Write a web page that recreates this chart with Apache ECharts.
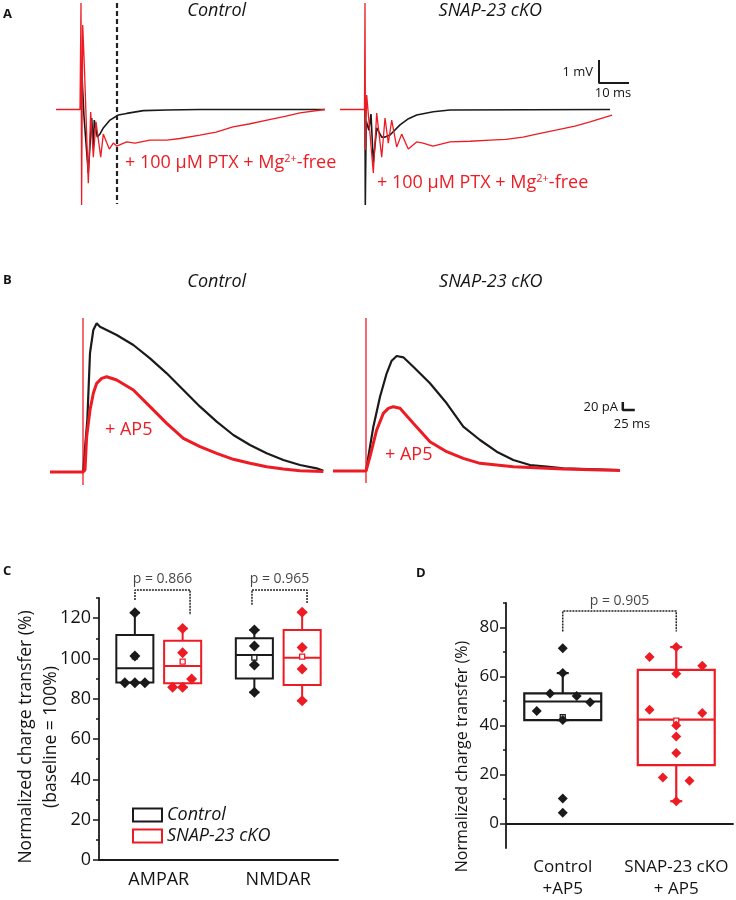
<!DOCTYPE html>
<html><head><meta charset="utf-8">
<script src="https://cdn.jsdelivr.net/npm/echarts@6/dist/echarts.min.js"></script>
<style>html,body{margin:0;padding:0;background:#fff}#c{width:736px;height:900px}</style>
</head><body><div id="c"></div>
<script>
// ---------- Panel A traces (time ms, voltage mV) ----------
const aCtrlBlack = [[0,0],[0.33,1.5],[1.0,-0.3],[2.43,-2.76],[3.57,-0.37],[4.1,-1.68],[4.43,-0.46],[5.43,-1.2],[6.4,-1.05],[7.43,-0.8],[9.67,-0.46],[12.43,-0.24],[15.23,-0.17],[20.77,-0.05],[28.57,-0.02],[39.67,0],[81.33,0]];
const aCtrlRed = [[-8.33,0],[-0.33,0],[0,4.63],[0.2,-4.15],[0.57,3.67],[1.17,1.72],[2.43,-3.2],[3.23,-0.11],[4.1,-2.07],[5,-0.54],[6.57,-2.07],[7.43,-1.07],[9.43,-1.72],[10.77,-1.46],[11.9,-1.59],[15.23,-1.41],[18,-1.46],[23,-1.33],[28.67,-1.33],[33,-1.26],[39.67,-1.11],[45,-0.98],[50.67,-0.76],[56,-0.63],[62,-0.46],[68,-0.3],[73,-0.15],[81.33,0]];
const aKoBlack = [[0,0],[0.1,-4.15],[0.4,-0.5],[1.3,-0.9],[2.0,-0.2],[2.77,-2.3],[3.9,-0.8],[5.57,-1.2],[6.67,-1.2],[8.33,-1.11],[11.67,-0.67],[14.5,-0.4],[17.23,-0.24],[22.77,-0.1],[28.33,-0.02],[81.67,0]];
const aKoRed = [[-8.33,0],[-0.17,0],[0,4.63],[0.17,-1.76],[0.57,0.63],[2.77,-2.76],[3.9,-0.15],[5.57,-2.07],[6.67,-0.37],[7.77,-1.46],[8.9,-0.46],[10.57,-1.63],[12.23,-1.07],[14.43,-1.72],[17.23,-1.41],[19.33,-1.46],[22.67,-1.59],[28.33,-1.41],[35,-1.38],[41.67,-1.33],[47,-1.3],[52.67,-1.2],[58,-1.05],[64,-0.89],[70,-0.72],[75,-0.54],[82.33,-0.24]];
const aDash = [[12,4.63],[12,-4.11]];
const aScale = [[78,2.15],[78,1.15],[88,1.15]];

// ---------- Panel B traces (time ms, current pA) ----------
const bCtrlBlack = [[-68.75,0],[0,0],[9,130],[14.6,297.5],[21.5,355],[28.5,371.7],[35.4,363.3],[70.2,342.5],[104.9,317.5],[139.6,284.2],[174.4,246.7],[209.1,205],[243.8,163.3],[278.5,125.8],[313.2,92.5],[347.9,67.5],[382.6,46.7],[417.4,30],[452.1,17.5],[486.8,9.2],[500.7,3]];
const bCtrlRed = [[-68.75,0],[0,0],[4.2,5],[7.6,88],[14.6,155],[21.5,196.7],[28.5,221.7],[38.9,234],[49.3,238],[70.2,230],[104.9,205],[139.6,163.3],[174.4,121.7],[209.1,84.2],[243.8,63.3],[278.5,46.7],[313.2,31.7],[347.9,21.7],[382.6,13.3],[417.4,7.5],[452.1,3.3],[500.7,1]];
const bCtrlStim = [[0,385],[0,-32.5]];
const bKoBlack = [[-68.75,0],[0,0],[15.3,110.8],[29.2,185.8],[43.1,244.2],[53.5,275.8],[63.9,287.5],[77.8,284.2],[98.5,260.8],[133.3,219.2],[168.1,169.2],[202.7,110.8],[237.5,77.5],[272.3,48.3],[306.9,27.5],[341.7,15],[376.5,10.8],[411,6.7],[529.2,2.5]];
const bKoRed = [[-68.75,0],[0,0],[8.3,35.8],[22.2,102.5],[36.1,144.2],[46.5,156.7],[56.9,160.8],[70.8,156.7],[98.5,119.2],[133.3,73.3],[168.1,48.3],[202.7,31.7],[237.5,19.2],[306.9,10.8],[411,5],[529.2,1]];
const bKoStim = [[0,382.5],[0,-30]];
const bScale = [[535,172.5],[535,152.5],[560,152.5]];

// ---------- Panel C ----------
const cCategories = ['AMPAR', 'NMDAR'];
const cTicks = [0, 20, 40, 60, 80, 100, 120];
const cMinorTicks = [10, 30, 50, 70, 90, 110, 130];
// [min, q1, median, q3, max]
const cBoxCtrl = [[88, 88.1, 95.1, 111.7, 122.7], [83.2, 90.1, 101.7, 110, 114.1]];
const cBoxKo = [[85.7, 87.7, 96.3, 108.8, 114.9], [79, 86.8, 100.4, 114.1, 122.9]];
const cMeanCtrl = [101, 100.4];
const cMeanKo = [98.4, 100.9];
const cPtsCtrl = [[122.7, 101.2, 88, 88, 88], [114.1, 106.2, 96.8, 83.2]];
const cJitCtrl = [[0, 0, -0.084, 0, 0.084], [0, 0, 0, 0]];
const cPtsKo = [[114.9, 102.8, 89.8, 85.7, 85.7], [122.9, 105.4, 94.8, 79]];
const cJitKo = [[0, 0, 0.075, -0.084, 0], [0, 0, 0, 0]];
const cPLabels = ['p = 0.866', 'p = 0.965'];
const cBracketX = [[0.301, 0.762], [1.280, 1.741]];
const cBracketY = [[129, 134, 121.6], [126.6, 134, 127.5]];
const cPLabelY = 139.5;

// ---------- Panel D ----------
const dCategories = ['Control\n+AP5', 'SNAP-23 cKO\n+ AP5'];
const dTicks = [0, 20, 40, 60, 80];
const dMinorTicks = [10, 30, 50, 70, 90];
const dBoxes = [[42.2, 42.2, 49.8, 53.1, 61.4], [9.1, 23.8, 42.4, 62.7, 72]];
const dMeans = [43.4, 42];
const dPtsCtrl = [71.5, 61.4, 53.1, 52.0, 49.5, 45.9, 42.2, 10.2, 4.4];
const dJitCtrl = [0, 0, -0.112, 0.123, 0.241, -0.229, 0, 0, 0];
const dPtsKo = [72, 68, 64.4, 61.1, 46.4, 45.1, 40, 35.5, 28.8, 18.8, 17.4, 9.1];
const dJitKo = [0, -0.235, 0.229, 0, -0.235, 0.229, 0, 0, 0, -0.118, 0.117, 0];
const dPLabel = 'p = 0.905';
const dBracketX = [0.5, 1.5];
const dBracketY = [78.4, 86.7, 78.4];
const dPLabelY = 90.9;

// ---------- styling ----------
const RED = '#ed1c24', BLK = '#1a1a1a', TXT = '#141414';
const FONT = '"Open Sans", Lato, sans-serif';

function makeBox(color, halfW, capPx, lw) {
  return function (params, api) {
    const x = api.value(0);
    const mn = api.coord([x, api.value(1)]), q1 = api.coord([x, api.value(2)]),
          md = api.coord([x, api.value(3)]), q3 = api.coord([x, api.value(4)]),
          mx = api.coord([x, api.value(5)]);
    const hw = api.size([halfW, 0])[0];
    const L = (x1, y1, x2, y2) => ({type: 'line', shape: {x1, y1, x2, y2}, style: {stroke: color, lineWidth: lw}});
    return {type: 'group', children: [
      L(q3[0], q3[1], mx[0], mx[1]),
      L(q1[0], q1[1], mn[0], mn[1]),
      L(mx[0] - capPx, mx[1], mx[0] + capPx, mx[1]),
      L(mn[0] - capPx, mn[1], mn[0] + capPx, mn[1]),
      {type: 'rect', shape: {x: q3[0] - hw, y: q3[1], width: 2 * hw, height: q1[1] - q3[1]}, style: {stroke: color, lineWidth: lw, fill: 'none'}},
      L(md[0] - hw, md[1], md[0] + hw, md[1])
    ]};
  };
}

const cOff = 0.2;
const cBoxDataCtrl = cBoxCtrl.map((b, i) => [i + 0.5 - cOff].concat(b));
const cBoxDataKo = cBoxKo.map((b, i) => [i + 0.5 + cOff].concat(b));
const cScatterCtrl = [], cScatterKo = [];
cPtsCtrl.forEach((arr, i) => arr.forEach((v, k) => cScatterCtrl.push([i + 0.5 - cOff + cJitCtrl[i][k], v])));
cPtsKo.forEach((arr, i) => arr.forEach((v, k) => cScatterKo.push([i + 0.5 + cOff + cJitKo[i][k], v])));
const cMeanDataCtrl = cMeanCtrl.map((v, i) => [i + 0.5 - cOff, v]);
const cMeanDataKo = cMeanKo.map((v, i) => [i + 0.5 + cOff, v]);

const dBoxDataCtrl = [[0.5].concat(dBoxes[0])];
const dBoxDataKo = [[1.5].concat(dBoxes[1])];
const dScatterCtrl = dPtsCtrl.map((v, k) => [0.5 + dJitCtrl[k], v]);
const dScatterKo = dPtsKo.map((v, k) => [1.5 + dJitKo[k], v]);

function bracket(xs, ys) { return [[xs[0], ys[0]], [xs[0], ys[1]], [xs[1], ys[1]], [xs[1], ys[2]]]; }

const trace = (xi, data, color, width, z) => ({
  type: 'line', xAxisIndex: xi, yAxisIndex: xi, data: data, showSymbol: false, symbol: 'none',
  lineStyle: {color: color, width: width}, itemStyle: {color: color}, silent: true, z: z || 2
});

const T = (x, y, text, o) => Object.assign({type: 'text', x: x, y: y, silent: true,
  style: Object.assign({text: text, fill: TXT, fontSize: 18, fontFamily: FONT, align: 'center', verticalAlign: 'middle'}, o || {})});

const hiddenVal = (gi, min, max) => ({gridIndex: gi, type: 'value', min: min, max: max, show: false});

const option = {
  animation: false,
  backgroundColor: '#fff',
  textStyle: {fontFamily: FONT},
  grid: [
    {left: 51, top: 0, width: 300, height: 219},
    {left: 335, top: 0, width: 300, height: 219},
    {left: 35, top: 312, width: 336, height: 180},
    {left: 318, top: 311, width: 336, height: 180},
    {left: 99, top: 598, width: 239, height: 262},
    {left: 506, top: 603, width: 227, height: 250}
  ],
  xAxis: [
    hiddenVal(0, -10, 90), hiddenVal(1, -10, 90),
    hiddenVal(2, -100, 600), hiddenVal(3, -100, 600),
    {gridIndex: 4, type: 'category', data: cCategories, position: 'bottom',
     axisLine: {lineStyle: {color: BLK, width: 1.8}},
     axisTick: {alignWithLabel: true, length: 5, lineStyle: {color: BLK, width: 1.5}},
     axisLabel: {interval: 0, fontSize: 18, margin: 11, color: TXT, fontFamily: FONT}},
    hiddenVal(4, 0, 2),
    {gridIndex: 5, type: 'category', data: dCategories, position: 'bottom',
     axisLine: {lineStyle: {color: BLK, width: 1.8}},
     axisTick: {alignWithLabel: true, length: 5, lineStyle: {color: BLK, width: 1.5}},
     axisLabel: {interval: 0, fontSize: 17, margin: 8, lineHeight: 22, color: TXT, fontFamily: FONT}},
    hiddenVal(5, 0, 2)
  ],
  yAxis: [
    hiddenVal(0, -4.76, 4.76), hiddenVal(1, -4.76, 4.76),
    hiddenVal(2, -50, 400), hiddenVal(3, -50, 400),
    {gridIndex: 4, type: 'value', position: 'left', offset: 0, min: 0, max: 130,
     axisLine: {show: true, lineStyle: {color: BLK, width: 1.8}},
     axisTick: {show: true, length: 6, customValues: cTicks, lineStyle: {color: BLK, width: 1.5}},
     axisLabel: {customValues: cTicks, fontSize: 18, margin: 8, color: TXT, fontFamily: FONT},
     splitLine: {show: false},
     name: 'Normalized charge transfer (%)\n(baseline = 100%)', nameLocation: 'middle', nameGap: 35,
     nameMoveOverlap: false,
     nameTextStyle: {fontSize: 17.5, lineHeight: 25, color: TXT, fontFamily: FONT, padding: [0, 16, 0, 0]}},
    {gridIndex: 4, type: 'value', position: 'left', offset: 0, min: 0, max: 130,
     axisLine: {show: false}, axisLabel: {show: false}, splitLine: {show: false},
     axisTick: {show: true, length: 3, customValues: cMinorTicks, lineStyle: {color: BLK, width: 1.5}}},
    {gridIndex: 5, type: 'value', position: 'left', offset: 0, min: -10, max: 90,
     axisLine: {show: true, lineStyle: {color: BLK, width: 1.8}},
     axisTick: {show: true, length: 6, customValues: dTicks, lineStyle: {color: BLK, width: 1.5}},
     axisLabel: {customValues: dTicks, fontSize: 17, margin: 7, color: TXT, fontFamily: FONT},
     splitLine: {show: false},
     name: 'Normalized charge transfer (%)', nameLocation: 'middle', nameGap: 34,
     nameTextStyle: {fontSize: 16, lineHeight: 20, color: TXT, fontFamily: FONT, padding: [0, 62, 0, 0]}},
    {gridIndex: 5, type: 'value', position: 'left', offset: 0, min: -10, max: 90,
     axisLine: {show: false}, axisLabel: {show: false}, splitLine: {show: false},
     axisTick: {show: true, length: 3, customValues: dMinorTicks, lineStyle: {color: BLK, width: 1.5}}}
  ],
  legend: {
    left: 127, top: 801, orient: 'vertical', itemWidth: 29, itemHeight: 13, itemGap: 3, icon: 'rect',
    selectedMode: false,
    textStyle: {fontSize: 18, fontStyle: 'italic', color: TXT, fontFamily: FONT, lineHeight: 16},
    data: [
      {name: 'Control', itemStyle: {color: '#fff', borderColor: BLK, borderWidth: 2}},
      {name: 'SNAP-23 cKO', itemStyle: {color: '#fff', borderColor: RED, borderWidth: 2}}
    ]
  },
  series: [
    // Panel A
    trace(0, aCtrlBlack, BLK, 1.6, 2),
    trace(0, aCtrlRed, RED, 1.3, 3),
    {type: 'line', xAxisIndex: 0, yAxisIndex: 0, data: aDash, showSymbol: false, symbol: 'none', silent: true,
     lineStyle: {color: '#222', width: 2.2, type: [5, 3]}, z: 4},
    trace(1, aKoBlack, BLK, 1.6, 2),
    trace(1, aKoRed, RED, 1.3, 3),
    trace(1, aScale, BLK, 2, 4),
    // Panel B
    trace(2, bCtrlBlack, BLK, 2.2, 2),
    trace(2, bCtrlRed, RED, 3, 3),
    trace(2, bCtrlStim, RED, 1.3, 4),
    trace(3, bKoBlack, BLK, 2.2, 2),
    trace(3, bKoRed, RED, 3, 3),
    trace(3, bKoStim, RED, 1.3, 4),
    trace(3, bScale, BLK, 2.5, 4),
    // Panel C
    {name: 'Control', type: 'custom', xAxisIndex: 5, yAxisIndex: 4, data: cBoxDataCtrl,
     encode: {x: 0, y: [1, 2, 3, 4, 5]}, renderItem: makeBox(BLK, 0.155, 5, 2), itemStyle: {color: BLK}, z: 2, silent: true},
    {name: 'SNAP-23 cKO', type: 'custom', xAxisIndex: 5, yAxisIndex: 4, data: cBoxDataKo,
     encode: {x: 0, y: [1, 2, 3, 4, 5]}, renderItem: makeBox(RED, 0.155, 5, 2), itemStyle: {color: RED}, z: 2, silent: true},
    {name: 'cMeanCtrl', type: 'scatter', xAxisIndex: 5, yAxisIndex: 4, data: cMeanDataCtrl, symbol: 'rect', symbolSize: 5,
     itemStyle: {color: '#fff', borderColor: BLK, borderWidth: 1.3, opacity: 1}, z: 3, silent: true},
    {name: 'cMeanKo', type: 'scatter', xAxisIndex: 5, yAxisIndex: 4, data: cMeanDataKo, symbol: 'rect', symbolSize: 5,
     itemStyle: {color: '#fff', borderColor: RED, borderWidth: 1.3, opacity: 1}, z: 3, silent: true},
    {name: 'cPtsCtrl', type: 'scatter', xAxisIndex: 5, yAxisIndex: 4, data: cScatterCtrl, symbol: 'diamond', symbolSize: 11,
     itemStyle: {color: BLK, opacity: 1}, z: 4, silent: true},
    {name: 'cPtsKo', type: 'scatter', xAxisIndex: 5, yAxisIndex: 4, data: cScatterKo, symbol: 'diamond', symbolSize: 11,
     itemStyle: {color: RED, opacity: 1}, z: 4, silent: true},
    {name: 'cBr1', type: 'line', xAxisIndex: 5, yAxisIndex: 4, data: bracket(cBracketX[0], cBracketY[0]), clip: false,
     showSymbol: false, symbol: 'none', lineStyle: {color: '#222', width: 1.5, type: [2, 1]}, silent: true},
    {name: 'cBr2', type: 'line', xAxisIndex: 5, yAxisIndex: 4, data: bracket(cBracketX[1], cBracketY[1]), clip: false,
     showSymbol: false, symbol: 'none', lineStyle: {color: '#222', width: 1.5, type: [2, 1]}, silent: true},
    {name: 'cP', type: 'scatter', xAxisIndex: 5, yAxisIndex: 4, clip: false, symbolSize: 0, silent: true,
     data: cPLabels.map((t, i) => ({name: t, value: [(cBracketX[i][0] + cBracketX[i][1]) / 2, cPLabelY]})),
     label: {show: true, position: 'inside', formatter: '{b}', fontSize: 14, color: TXT, fontFamily: FONT}},
    // Panel D
    {name: 'dBoxCtrl', type: 'custom', xAxisIndex: 7, yAxisIndex: 6, data: dBoxDataCtrl,
     encode: {x: 0, y: [1, 2, 3, 4, 5]}, renderItem: makeBox(BLK, 0.339, 6, 2.2), itemStyle: {color: BLK}, z: 2, silent: true},
    {name: 'dBoxKo', type: 'custom', xAxisIndex: 7, yAxisIndex: 6, data: dBoxDataKo,
     encode: {x: 0, y: [1, 2, 3, 4, 5]}, renderItem: makeBox(RED, 0.339, 6, 2.2), itemStyle: {color: RED}, z: 2, silent: true},
    {name: 'dMean', type: 'scatter', xAxisIndex: 7, yAxisIndex: 6, symbol: 'rect', symbolSize: 5, silent: true, z: 3,
     data: [{value: [0.5, dMeans[0]], itemStyle: {color: '#fff', borderColor: BLK, borderWidth: 1.3, opacity: 1}},
            {value: [1.5, dMeans[1]], itemStyle: {color: '#fff', borderColor: RED, borderWidth: 1.3, opacity: 1}}]},
    {name: 'dPtsCtrl', type: 'scatter', xAxisIndex: 7, yAxisIndex: 6, data: dScatterCtrl, symbol: 'diamond', symbolSize: 10,
     itemStyle: {color: BLK, opacity: 1}, z: 4, silent: true},
    {name: 'dPtsKo', type: 'scatter', xAxisIndex: 7, yAxisIndex: 6, data: dScatterKo, symbol: 'diamond', symbolSize: 10,
     itemStyle: {color: RED, opacity: 1}, z: 4, silent: true},
    {name: 'dBr', type: 'line', xAxisIndex: 7, yAxisIndex: 6, data: bracket(dBracketX, dBracketY), clip: false,
     showSymbol: false, symbol: 'none', lineStyle: {color: '#222', width: 1.5, type: [2, 1]}, silent: true},
    {name: 'dP', type: 'scatter', xAxisIndex: 7, yAxisIndex: 6, clip: false, symbolSize: 0, silent: true,
     data: [{name: dPLabel, value: [(dBracketX[0] + dBracketX[1]) / 2, dPLabelY]}],
     label: {show: true, position: 'inside', formatter: '{b}', fontSize: 14, color: TXT, fontFamily: FONT}}
  ],
  graphic: [
    T(3, 14, 'A', {fontWeight: 'bold', fontSize: 13, align: 'left'}),
    T(3, 280, 'B', {fontWeight: 'bold', fontSize: 13, align: 'left'}),
    T(3, 571, 'C', {fontWeight: 'bold', fontSize: 13, align: 'left'}),
    T(416, 573, 'D', {fontWeight: 'bold', fontSize: 13, align: 'left'}),
    T(216.7, 11, 'Control', {fontStyle: 'italic'}),
    T(490.3, 11, 'SNAP-23 cKO', {fontStyle: 'italic'}),
    T(216.7, 282, 'Control', {fontStyle: 'italic'}),
    T(490.8, 282, 'SNAP-23 cKO', {fontStyle: 'italic'}),
    T(125, 163, '+ 100 µM PTX + Mg{s|2+}-free', {fill: RED, align: 'left', rich: {s: {fontSize: 11, fill: RED, fontFamily: FONT, padding: [0, 0, 8, 0]}}}),
    T(377, 183, '+ 100 µM PTX + Mg{s|2+}-free', {fill: RED, align: 'left', rich: {s: {fontSize: 11, fill: RED, fontFamily: FONT, padding: [0, 0, 8, 0]}}}),
    T(105, 430, '+ AP5', {fill: RED, align: 'left'}),
    T(385, 455, '+ AP5', {fill: RED, align: 'left'}),
    T(593, 72, '1 mV', {fontSize: 13, align: 'right'}),
    T(613, 93, '10 ms', {fontSize: 13}),
    T(618, 407, '20 pA', {fontSize: 13, align: 'right'}),
    T(632, 424, '25 ms', {fontSize: 13})
  ]
};

const chart = echarts.init(document.getElementById('c'), null, {renderer: 'canvas'});
chart.setOption(option);
</script>
</body></html>
